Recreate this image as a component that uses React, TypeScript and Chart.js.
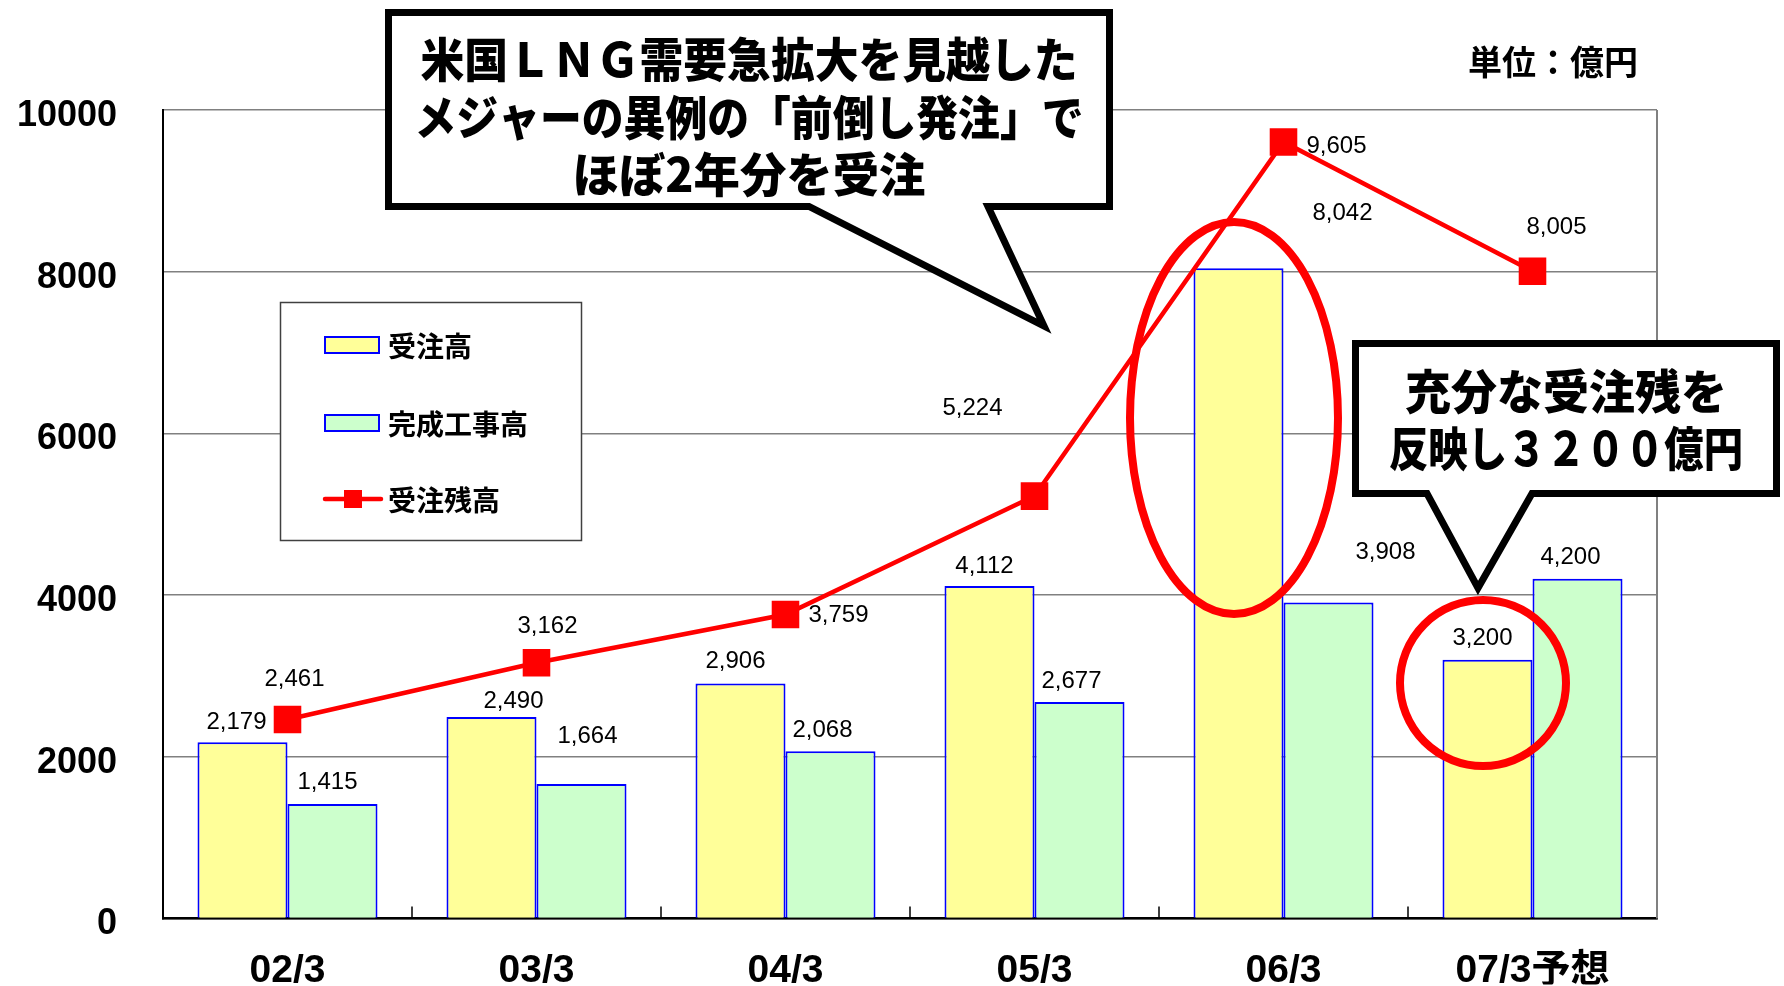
import React, { useEffect, useRef } from 'react';
import { Chart, registerables } from 'chart.js';

Chart.register(...registerables);

// ---- data ----
const categories = ['02/3', '03/3', '04/3', '05/3', '06/3', '07/3予想'];
const ordersReceived = [2179, 2490, 2906, 4112, 8042, 3200];
const completedWorks = [1415, 1664, 2068, 2677, 3908, 4200];
const orderBacklog = [2461, 3162, 3759, 5224, 9605, 8005];
const yTicks = [0, 2000, 4000, 6000, 8000, 10000];
const seriesNames = ['受注高', '完成工事高', '受注残高'];
const calloutMain = ['米国ＬＮＧ需要急拡大を見越した', 'メジャーの異例の「前倒し発注」で', 'ほぼ2年分を受注'];
const calloutSide = ['充分な受注残を', '反映し３２００億円'];
const unitLabel = '単位：億円';

// ---- label placement (pixel offsets from each mark's anchor) ----
const ordersLabelOffsets = [[-6, -20], [22, -16], [-5, -22], [-5, -20], [104, -55], [-5, -21]];
const completedLabelOffsets = [[-5, -22], [6, -48], [-8, -21], [-8, -21], [57, -50], [-7, -21]];
const backlogLabelOffsets = [[7, -40], [11, -36], [53, 1], [-62, -88], [53, 4], [24, -44]];

const YELLOW = '#FFFF99';
const GREEN = '#CCFFCC';
const BLUE = '#0000FF';
const RED = '#FF0000';
const CJK = '"Noto Sans CJK JP", sans-serif';

const overlayPlugin = {
  id: 'overlay',
  beforeDatasetsDraw(chart: any) {
    const { ctx, chartArea: a, scales } = chart;
    const x = scales.x;
    ctx.save();
    // right frame
    ctx.strokeStyle = '#808080';
    ctx.lineWidth = 2;
    ctx.beginPath();
    ctx.moveTo(a.right, a.top);
    ctx.lineTo(a.right, a.bottom);
    ctx.stroke();
    // inner category ticks
    ctx.strokeStyle = '#000';
    ctx.lineWidth = 1.5;
    ctx.beginPath();
    for (let i = 1; i < categories.length; i++) {
      const px = (x.getPixelForValue(i - 1) + x.getPixelForValue(i)) / 2;
      ctx.moveTo(px, a.bottom);
      ctx.lineTo(px, a.bottom - 12);
    }
    ctx.stroke();
    ctx.restore();
  },
  afterDatasetsDraw(chart: any) {
    const { ctx } = chart;
    ctx.save();
    ctx.font = '24px "Liberation Sans", Arial, sans-serif';
    ctx.fillStyle = '#000';
    ctx.textAlign = 'center';
    ctx.textBaseline = 'middle';
    const groups: [number, number[][]][] = [
      [0, ordersLabelOffsets],
      [1, completedLabelOffsets],
      [2, backlogLabelOffsets],
    ];
    groups.forEach(([di, offs]) => {
      const meta = chart.getDatasetMeta(di);
      const vals = chart.data.datasets[di].data as number[];
      meta.data.forEach((el: any, i: number) => {
        const t = vals[i].toLocaleString('en-US');
        ctx.fillText(t, el.x + offs[i][0], el.y + offs[i][1]);
      });
    });
    ctx.restore();
  },
  afterDraw(chart: any) {
    const { ctx } = chart;
    ctx.save();

    // legend box
    ctx.fillStyle = '#fff';
    ctx.fillRect(280.5, 302.5, 301, 238);
    ctx.strokeStyle = '#404040';
    ctx.lineWidth = 1.5;
    ctx.strokeRect(280.5, 302.5, 301, 238);
    const itemY = [345, 423, 499];
    [YELLOW, GREEN].forEach((c, i) => {
      ctx.fillStyle = c;
      ctx.fillRect(325, itemY[i] - 8, 54, 16);
      ctx.strokeStyle = BLUE;
      ctx.lineWidth = 2;
      ctx.strokeRect(325, itemY[i] - 8, 54, 16);
    });
    ctx.strokeStyle = RED;
    ctx.lineWidth = 4.5;
    ctx.lineCap = 'round';
    ctx.beginPath();
    ctx.moveTo(325, itemY[2]);
    ctx.lineTo(381, itemY[2]);
    ctx.stroke();
    ctx.lineCap = 'butt';
    ctx.fillStyle = RED;
    ctx.fillRect(353 - 9, itemY[2] - 9, 18, 18);
    ctx.fillStyle = '#000';
    ctx.font = `bold 28px ${CJK}`;
    ctx.textAlign = 'left';
    ctx.textBaseline = 'middle';
    seriesNames.forEach((n, i) => ctx.fillText(n, 388, itemY[i] + 1));

    // red ellipses
    ctx.strokeStyle = RED;
    ctx.lineWidth = 8;
    ctx.beginPath();
    ctx.ellipse(1234, 418, 104, 196, 0, 0, Math.PI * 2);
    ctx.stroke();
    ctx.beginPath();
    ctx.ellipse(1483, 683, 83, 83, 0, 0, Math.PI * 2);
    ctx.stroke();

    // callout 1
    ctx.lineJoin = 'miter';
    ctx.lineWidth = 7;
    ctx.strokeStyle = '#000';
    ctx.fillStyle = '#fff';
    ctx.beginPath();
    ctx.moveTo(388.5, 12.5);
    ctx.lineTo(1109.5, 12.5);
    ctx.lineTo(1109.5, 206.5);
    ctx.lineTo(988, 206.5);
    ctx.lineTo(1044, 326);
    ctx.lineTo(809, 206.5);
    ctx.lineTo(388.5, 206.5);
    ctx.closePath();
    ctx.fill();
    ctx.stroke();

    // callout 2
    ctx.beginPath();
    ctx.moveTo(1355.5, 343.5);
    ctx.lineTo(1776.5, 343.5);
    ctx.lineTo(1776.5, 493.5);
    ctx.lineTo(1532, 493.5);
    ctx.lineTo(1478, 588);
    ctx.lineTo(1427, 493.5);
    ctx.lineTo(1355.5, 493.5);
    ctx.closePath();
    ctx.fill();
    ctx.stroke();

    ctx.fillStyle = '#000';
    ctx.textAlign = 'center';
    ctx.textBaseline = 'middle';
    ctx.font = `900 47px ${CJK}`;
    const mainY = [59, 117, 174];
    const mainW = [657, 669, 353];
    calloutMain.forEach((t, i) => ctx.fillText(t, 749, mainY[i], mainW[i]));
    const sideY = [391, 448];
    const sideW = [322, 354];
    calloutSide.forEach((t, i) => ctx.fillText(t, 1566, sideY[i], sideW[i]));

    // unit
    ctx.textAlign = 'left';
    ctx.font = `bold 34px ${CJK}`;
    ctx.fillText(unitLabel, 1468, 62);

    ctx.restore();
  },
};

export default function App() {
  const ref = useRef<HTMLCanvasElement | null>(null);

  useEffect(() => {
    document.body.style.margin = '0';
    const canvas = ref.current;
    if (!canvas) return;
    const chart = new Chart(canvas, {
      type: 'bar',
      data: {
        labels: categories,
        datasets: [
          {
            type: 'bar',
            label: seriesNames[0],
            data: ordersReceived,
            backgroundColor: YELLOW,
            borderColor: BLUE,
            borderWidth: 2,
            categoryPercentage: 0.723,
            barPercentage: 1,
            order: 1,
          },
          {
            type: 'bar',
            label: seriesNames[1],
            data: completedWorks,
            backgroundColor: GREEN,
            borderColor: BLUE,
            borderWidth: 2,
            categoryPercentage: 0.723,
            barPercentage: 1,
            order: 1,
          },
          {
            type: 'line',
            label: seriesNames[2],
            data: orderBacklog,
            borderColor: RED,
            borderWidth: 4.5,
            pointStyle: 'rect',
            pointRadius: 19.5,
            pointBackgroundColor: RED,
            pointBorderColor: RED,
            pointBorderWidth: 0,
            order: 0,
          } as any,
        ],
      },
      options: {
        animation: false,
        responsive: false,
        maintainAspectRatio: false,
        devicePixelRatio: 1,
        layout: { padding: { top: 110, right: 127, left: 0, bottom: 0 } },
        plugins: {
          legend: { display: false },
          tooltip: { enabled: false },
        },
        scales: {
          x: {
            grid: { display: false },
            border: { display: true, color: '#000', width: 2.5 },
            ticks: {
              color: '#000',
              padding: 21,
              font: { family: '"Liberation Sans Narrow", "Liberation Sans", "Noto Sans CJK JP", sans-serif', size: 39, weight: 'bold' },
            },
            afterFit: (s: any) => {
              s.height = 66;
            },
          },
          y: {
            min: 0,
            max: 10000,
            grid: { color: '#808080', lineWidth: 1.5, drawTicks: false },
            border: { display: true, color: '#000', width: 2 },
            ticks: {
              color: '#000',
              padding: 46,
              labelOffset: 6,
              font: { family: '"Liberation Sans", Arial, sans-serif', size: 36, weight: 'bold' },
              callback: (v: any) => String(v),
            },
            afterBuildTicks: (s: any) => {
              s.ticks = yTicks.map((v) => ({ value: v }));
            },
            afterFit: (s: any) => {
              s.width = 163;
            },
          },
        },
      },
      plugins: [overlayPlugin],
    });
    return () => chart.destroy();
  }, []);

  return (
    <div style={{ width: 1784, height: 986, position: 'relative' }}>
      <canvas ref={ref} width={1784} height={986} style={{ display: 'block' }} />
    </div>
  );
}
